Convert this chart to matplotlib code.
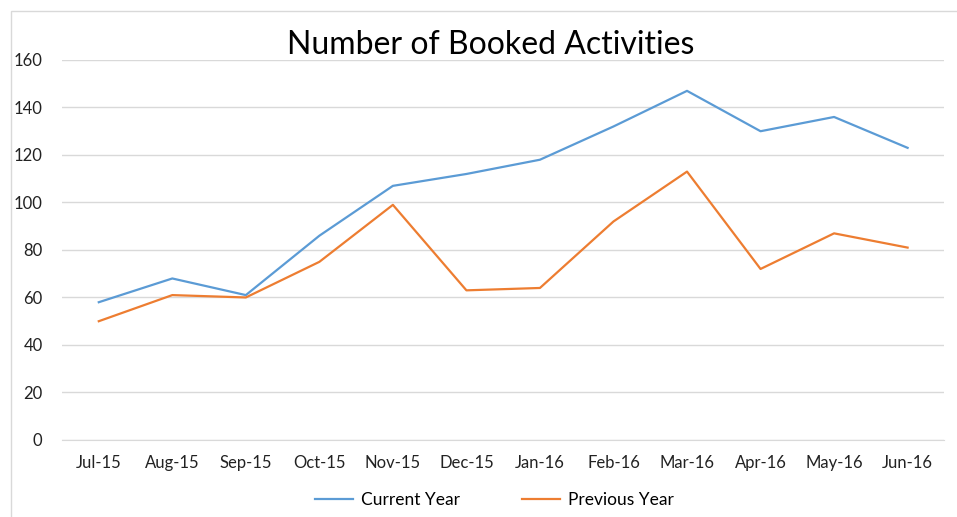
import matplotlib.pyplot as plt
from matplotlib.patches import Rectangle

months = ["Jul-15", "Aug-15", "Sep-15", "Oct-15", "Nov-15", "Dec-15",
          "Jan-16", "Feb-16", "Mar-16", "Apr-16", "May-16", "Jun-16"]
current_year = [58, 68, 61, 86, 107, 112, 118, 132, 147, 130, 136, 123]
previous_year = [50, 61, 60, 75, 99, 63, 64, 92, 113, 72, 87, 81]

plt.rcParams['font.family'] = ['Lato', 'DejaVu Sans']

fig = plt.figure(figsize=(9.57, 5.17), dpi=100)
ax = fig.add_axes([0.0648, 0.149, 0.922, 0.735])

# thin chart border like the Excel chart area
fig.patches.append(Rectangle((11 / 957, -0.1), 1.1, 1.1 - 11 / 517,
                             transform=fig.transFigure, fill=False,
                             edgecolor="#d9d9d9", linewidth=1.0))

x = range(len(months))
ax.plot(x, current_year, color="#5B9BD5", linewidth=1.6, label="Current Year")
ax.plot(x, previous_year, color="#ED7D31", linewidth=1.6, label="Previous Year")

ax.set_xlim(-0.5, len(months) - 0.5)
ax.set_ylim(0, 160)
ax.set_yticks(range(0, 161, 20))
ax.set_xticks(list(x))
ax.set_xticklabels(months)
ax.grid(axis="y", color="#d9d9d9", linewidth=1.0)
ax.set_axisbelow(True)
for side in ["top", "right", "left"]:
    ax.spines[side].set_visible(False)
ax.spines["bottom"].set_color("#d9d9d9")
ax.tick_params(axis="both", length=0, labelsize=12, colors="#222222")
ax.tick_params(axis="y", pad=14)
ax.tick_params(axis="x", pad=11)

fig.text(0.513, 0.913, "Number of Booked Activities", ha="center", va="center",
         fontsize=23, color="black")

ax.legend(loc="upper center", bbox_to_anchor=(0.49, -0.095), ncol=2, frameon=False,
          fontsize=12.5, handlelength=2.2, columnspacing=3.6, handletextpad=0.45)

fig.savefig("out.png", dpi=100)
